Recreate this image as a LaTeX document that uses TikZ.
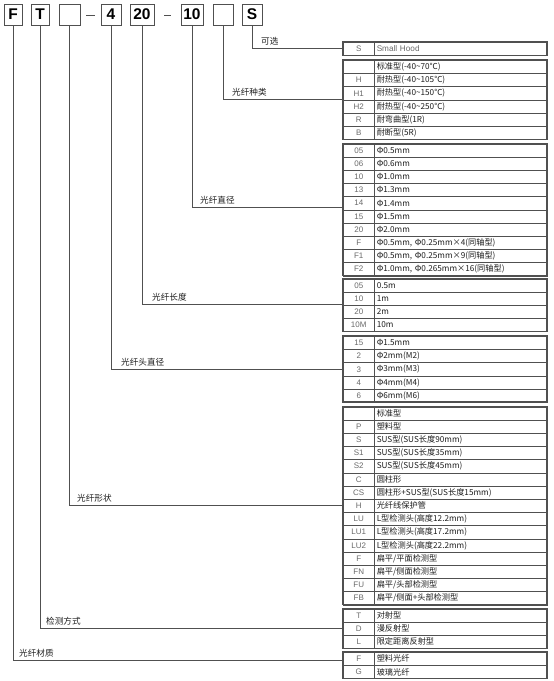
\documentclass[tikz,border=0pt]{standalone}
\usepackage{fontspec}
\setmainfont{Liberation Sans}
\newfontfamily\cjk{Noto Sans CJK SC}
\definecolor{ln}{HTML}{505050}
\definecolor{txt}{HTML}{1E1E1E}
\definecolor{codegray}{HTML}{6A6A6A}
\def\rh{13.2}
\def\tabL{343}
\def\tabM{374}
\def\tabR{547}
\newcommand\grp[1]{\xdef\gtop{#1}\xdef\cury{#1}}
\newcommand\trow[3]{%
  \node[codecell] (#1c) at (\tabL,-\cury) {#2};
  \node[desccell] (#1d) at (\tabM,-\cury) {#3};
  \pgfmathsetmacro\tmpy{\cury+\rh}\xdef\cury{\tmpy}}
\newcommand\grpend{\draw[outer] (\tabL,-\gtop) rectangle (\tabR,-\cury);}
\begin{document}
\begin{tikzpicture}[x=1pt,y=1pt,
 topbox/.style={draw=ln,line width=0.9pt,minimum height=21pt,inner sep=0pt,font=\fontsize{15.5}{15.5}\selectfont\bfseries},
 dashline/.style={draw=ln,line width=1pt},
 conn/.style={draw=ln,line width=0.8pt},
 lab/.style={anchor=south west,inner sep=1pt,font=\cjk\fontsize{8.6}{9}\selectfont,text=txt},
 codecell/.style={draw=ln,line width=0.5pt,anchor=north west,minimum width=31pt,minimum height=\rh,inner sep=0pt,font=\fontsize{8}{8}\selectfont,text=codegray},
 desccell/.style={draw=ln,line width=0.5pt,anchor=north west,text width=168pt,minimum height=\rh,inner xsep=2.5pt,inner ysep=0pt,align=left,font=\cjk\fontsize{8.2}{9}\selectfont,text=txt},
 outer/.style={draw=ln,line width=1.1pt}]
\useasboundingbox[fill=white] (0,0) rectangle (554,-681);

% top code boxes
\node[topbox,minimum width=18pt] (bF) at (13,-14.5) {F};
\node[topbox,minimum width=18pt] (bT) at (40,-14.5) {T};
\node[topbox,minimum width=21pt] (bE1) at (69.5,-14.5) {};
\node[topbox,minimum width=20pt] (b4) at (111,-14.5) {4};
\node[topbox,minimum width=24pt] (b20) at (142,-14.5) {20};
\node[topbox,minimum width=22pt] (b10) at (192,-14.5) {10};
\node[topbox,minimum width=20pt] (bE2) at (223,-14.5) {};
\node[topbox,minimum width=20pt] (bS) at (252,-14.5) {S};
% dashes between the boxes
\draw[dashline] ([xshift=6pt]bE1.east |- 0,-15) -- ([xshift=-6pt]b4.west |- 0,-15);
\draw[dashline] ([xshift=10pt]b20.east |- 0,-15) -- ([xshift=-10pt]b10.west |- 0,-15);

% tables
\grp{42}
\trow{a1}{S}{{\normalfont\color{codegray}Small Hood}}
\grpend

\grp{60}
\trow{b1}{}{标准型(-40\textasciitilde70℃)}
\trow{b2}{H}{耐热型(-40\textasciitilde105℃)}
\trow{b3}{H1}{耐热型(-40\textasciitilde150℃)}
\trow{b4}{H2}{耐热型(-40\textasciitilde250℃)}
\trow{b5}{R}{耐弯曲型(1R)}
\trow{b6}{B}{耐断型(5R)}
\grpend

\grp{143.5}
\trow{c1}{05}{Φ0.5mm}
\trow{c2}{06}{Φ0.6mm}
\trow{c3}{10}{Φ1.0mm}
\trow{c4}{13}{Φ1.3mm}
\trow{c5}{14}{Φ1.4mm}
\trow{c6}{15}{Φ1.5mm}
\trow{c7}{20}{Φ2.0mm}
\trow{c8}{F}{Φ0.5mm, Φ0.25mm×4(同轴型)}
\trow{c9}{F1}{Φ0.5mm, Φ0.25mm×9(同轴型)}
\trow{c10}{F2}{Φ1.0mm, Φ0.265mm×16(同轴型)}
\grpend

\grp{278.5}
\trow{d1r}{05}{0.5m}
\trow{d2r}{10}{1m}
\trow{d3r}{20}{2m}
\trow{d4r}{10M}{10m}
\grpend

\grp{336}
\trow{e1}{15}{Φ1.5mm}
\trow{e2}{2}{Φ2mm(M2)}
\trow{e3}{3}{Φ3mm(M3)}
\trow{e4}{4}{Φ4mm(M4)}
\trow{e5}{6}{Φ6mm(M6)}
\grpend

\grp{406.5}
\trow{f1}{}{标准型}
\trow{f2}{P}{塑料型}
\trow{f3}{S}{SUS型(SUS长度90mm)}
\trow{f4}{S1}{SUS型(SUS长度35mm)}
\trow{f5}{S2}{SUS型(SUS长度45mm)}
\trow{f6}{C}{圆柱形}
\trow{f7}{CS}{圆柱形+SUS型(SUS长度15mm)}
\trow{f8}{H}{光纤线保护管}
\trow{f9}{LU}{L型检测头(高度12.2mm)}
\trow{f10}{LU1}{L型检测头(高度17.2mm)}
\trow{f11}{LU2}{L型检测头(高度22.2mm)}
\trow{f12}{F}{扁平/平面检测型}
\trow{f13}{FN}{扁平/侧面检测型}
\trow{f14}{FU}{扁平/头部检测型}
\trow{f15}{FB}{扁平/侧面+头部检测型}
\grpend

\grp{608.5}
\trow{g1}{T}{对射型}
\trow{g2}{D}{漫反射型}
\trow{g3}{L}{限定距离反射型}
\grpend

\grp{652}
\trow{h1}{F}{塑料光纤}
\trow{h2}{G}{玻璃光纤}
\grpend

% connector end points on the tables' left edge
\coordinate (cS) at (\tabL,-48);
\coordinate (cE2) at (\tabL,-99);
\coordinate (c10) at (\tabL,-207);
\coordinate (c20) at (\tabL,-304);
\coordinate (c4) at (\tabL,-369);
\coordinate (cE1) at (\tabL,-505);
\coordinate (cT) at (\tabL,-628);
\coordinate (cF) at (\tabL,-660);

\draw[conn] (bS.south) |- (cS);
\draw[conn] (bE2.south) |- (cE2);
\draw[conn] (b10.south) |- (c10);
\draw[conn] (b20.south) |- (c20);
\draw[conn] (b4.south) |- (c4);
\draw[conn] (bE1.south) |- (cE1);
\draw[conn] (bT.south) |- (cT);
\draw[conn] (bF.south) |- (cF);

% labels
\node[lab] (lS) at (260,-46.5) {可选};
\node[lab] (lE2) at (231,-97.5) {光纤种类};
\node[lab] (l10) at (199,-205.5) {光纤直径};
\node[lab] (l20) at (151,-302.5) {光纤长度};
\node[lab] (l4) at (120,-367.5) {光纤头直径};
\node[lab] (lE1) at (76,-503.5) {光纤形状};
\node[lab] (lT) at (45,-626.5) {检测方式};
\node[lab] (lF) at (18,-658.5) {光纤材质};
\end{tikzpicture}
\end{document}
